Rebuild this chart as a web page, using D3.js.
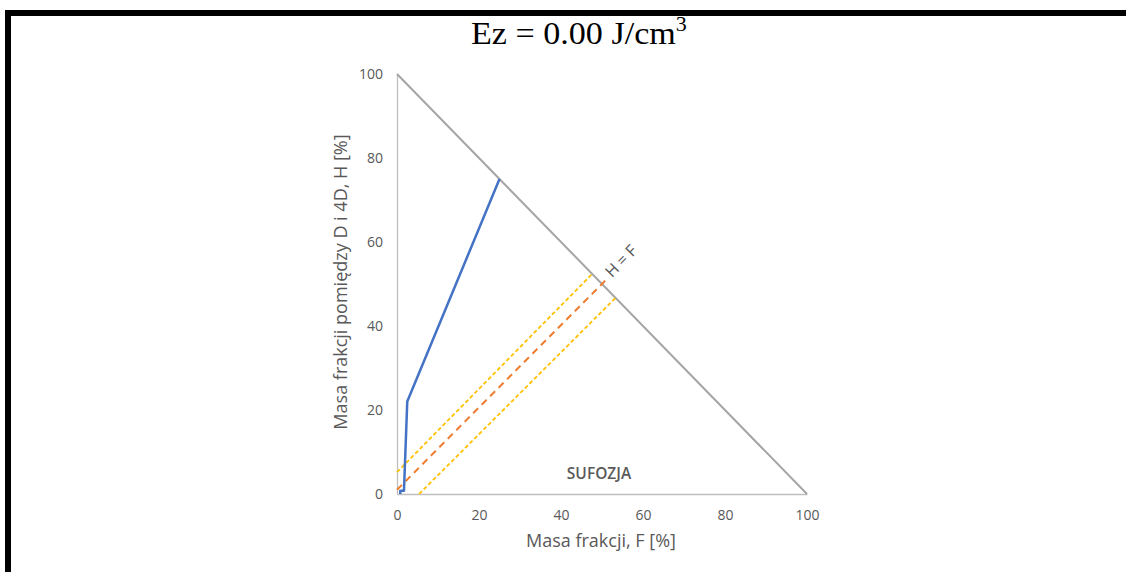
<html>
    <head>
        <script src="https://cdn.jsdelivr.net/npm/d3@7"></script>
        <style type="text/css">
        body {
            margin: 0;
            background: #fff;
        }
        .axis path {
            stroke: #bfbfbf;
            stroke-width: 1.3px;
        }
        .axis text {
            font-family: "Open Sans", "Liberation Sans", sans-serif;
            font-size: 14px;
            fill: #595959;
        }
        .label {
            font-family: "Open Sans", "Liberation Sans", sans-serif;
            fill: #595959;
        }
        </style>
    </head>
    <body>
        <svg id="chart" width="1126" height="572"></svg>
        <script>
        // tick values on both axes
        var ticks = [0, 20, 40, 60, 80, 100];
        // limit line F + H = 100
        var limitF = [0, 100];
        var limitH = [100, 0];
        // measured curve
        var curveF = [0.8, 0.8, 1.7, 2.5, 25];
        var curveH = [0, 0.8, 0.8, 22, 75];
        // H = F line and the two bounds
        var midF = [0, 51];
        var midH = [1, 51];
        var upperF = [0, 47.6];
        var upperH = [5.2, 52.4];
        var lowerF = [5.4, 53.3];
        var lowerH = [0, 46.7];

        var svg = d3.select("#chart");

        // frame (top and left edges only)
        svg.append("rect").attr("x", 5).attr("y", 10).attr("width", 1121).attr("height", 6).attr("fill", "#000");
        svg.append("rect").attr("x", 5).attr("y", 10).attr("width", 6).attr("height", 562).attr("fill", "#000");

        var x = d3.scaleLinear().domain([0, 100]).range([397, 807]);
        var y = d3.scaleLinear().domain([0, 100]).range([494, 74]);

        svg.append("g")
            .attr("class", "axis")
            .attr("transform", "translate(0,494)")
            .call(d3.axisBottom(x).tickValues(ticks).tickSize(0).tickPadding(16));
        svg.append("g")
            .attr("class", "axis")
            .attr("transform", "translate(397,0)")
            .call(d3.axisLeft(y).tickValues(ticks).tickSize(0).tickPadding(14));

        function pts(fs, hs) {
            return fs.map(function(f, i) { return [f, hs[i]]; });
        }
        var line = d3.line()
            .x(function(d) { return x(d[0]); })
            .y(function(d) { return y(d[1]); });

        svg.append("path").datum(pts(limitF, limitH))
            .attr("d", line).attr("fill", "none")
            .attr("stroke", "#a5a5a5").attr("stroke-width", 2);

        svg.append("path").datum(pts(upperF, upperH))
            .attr("d", line).attr("fill", "none")
            .attr("stroke", "#ffc000").attr("stroke-width", 1.8)
            .attr("stroke-dasharray", "4,2.5");
        svg.append("path").datum(pts(lowerF, lowerH))
            .attr("d", line).attr("fill", "none")
            .attr("stroke", "#ffc000").attr("stroke-width", 1.8)
            .attr("stroke-dasharray", "4,2.5");
        svg.append("path").datum(pts(midF, midH))
            .attr("d", line).attr("fill", "none")
            .attr("stroke", "#ed7d31").attr("stroke-width", 2)
            .attr("stroke-dasharray", "7,5");

        svg.append("path").datum(pts(curveF, curveH))
            .attr("d", line).attr("fill", "none")
            .attr("stroke", "#4472c4").attr("stroke-width", 2.5)
            .attr("stroke-linejoin", "round");

        // title, a bit wider than the plain font
        var title = svg.append("g")
            .attr("transform", "translate(471,44) scale(1.1,1)")
            .append("text")
            .style("font-family", "'Liberation Serif', 'Times New Roman', serif")
            .style("font-size", "31px")
            .attr("fill", "#000");
        title.append("tspan").text("Ez = 0.00 J/cm");
        title.append("tspan").attr("dy", -13).style("font-size", "20px").text("3");

        svg.append("text").attr("class", "label")
            .attr("x", 601).attr("y", 547)
            .attr("text-anchor", "middle")
            .style("font-size", "18px")
            .text("Masa frakcji, F [%]");

        svg.append("text").attr("class", "label")
            .attr("transform", "translate(347,282) rotate(-90)")
            .attr("text-anchor", "middle")
            .style("font-size", "18px")
            .text("Masa frakcji pomiędzy D i 4D, H [%]");

        svg.append("text").attr("class", "label")
            .attr("x", 599).attr("y", 479)
            .attr("text-anchor", "middle")
            .style("font-size", "15.5px")
            .style("font-weight", "600")
            .text("SUFOZJA");

        svg.append("text").attr("class", "label")
            .attr("transform", "translate(621,261) rotate(-45.7)")
            .attr("text-anchor", "middle")
            .attr("dy", "0.35em")
            .style("font-size", "16px")
            .text("H = F");
        </script>
    </body>
</html>
